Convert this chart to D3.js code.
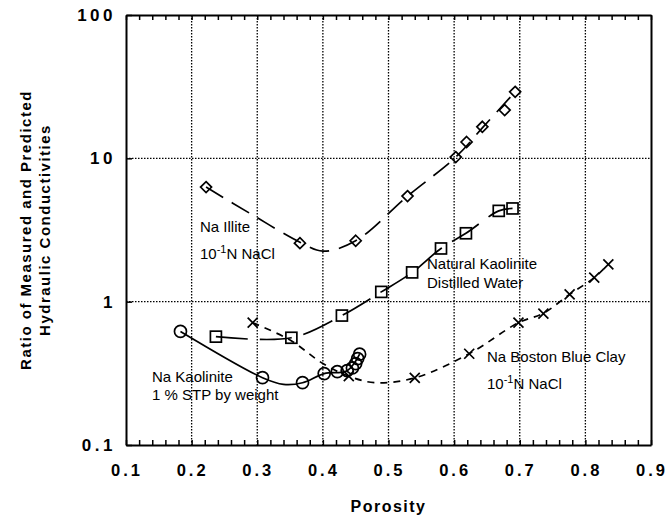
<!DOCTYPE html>
<html><head><meta charset="utf-8">
<script src="https://cdn.jsdelivr.net/npm/d3@7"></script>
<style>body{margin:0;background:#fff}svg{display:block}</style>
</head><body>
<script>
// ---- data ----
const xTicks = [0.1,0.2,0.3,0.4,0.5,0.6,0.7,0.8,0.9];
const yTicks = [0.1,1,10,100];
const yTickLabels = ["0.1","1","10","100"];

const illiteX = [0.222,0.365,0.450,0.529,0.6025,0.619,0.643,0.677,0.693];
const illiteY = [6.3,2.56,2.66,5.45,10.2,13.0,16.6,21.7,29.1];
const illiteFitX = [0.222,0.29,0.365,0.40,0.45,0.529,0.6025,0.643,0.693];
const illiteFitY = [6.3,4.1,2.6,2.25,2.66,5.45,10.2,16.3,29.1];

const natKaoX = [0.237,0.352,0.429,0.489,0.536,0.58,0.618,0.668,0.689];
const natKaoY = [0.57,0.56,0.80,1.17,1.6,2.35,3.0,4.3,4.47];

const naKaoX = [0.183,0.308,0.369,0.402,0.422,0.437,0.445,0.450,0.453,0.456];
const naKaoY = [0.62,0.295,0.272,0.315,0.325,0.33,0.345,0.37,0.40,0.43];
const naKaoFitX = [0.183,0.308,0.34,0.369,0.402,0.437,0.456];
const naKaoFitY = [0.62,0.295,0.265,0.272,0.315,0.33,0.43];

const bostonX = [0.293,0.4395,0.540,0.623,0.698,0.736,0.776,0.8135,0.835];
const bostonY = [0.713,0.302,0.294,0.433,0.713,0.824,1.125,1.47,1.82];
const bostonFitX = [0.293,0.35,0.40,0.4395,0.48,0.540,0.623,0.698,0.736,0.776,0.8135,0.835];
const bostonFitY = [0.713,0.54,0.37,0.302,0.272,0.294,0.433,0.713,0.83,1.125,1.47,1.82];

// ---- chart ----
const W=668,H=527, L=126,R=651,T=15,B=445;
const svg=d3.select("body").append("svg").attr("width",W).attr("height",H);
const x=d3.scaleLinear().domain([0.1,0.9]).range([L,R]);
const y=d3.scaleLog().domain([0.1,100]).range([B,T]);
const font="'Liberation Sans', Arial, Helvetica, sans-serif";

// grid
const grid=svg.append("g").attr("stroke","#000").attr("stroke-width",1.3).attr("stroke-dasharray","1.5,1.5");
xTicks.slice(1,-1).forEach(v=>grid.append("line").attr("x1",x(v)).attr("x2",x(v)).attr("y1",T).attr("y2",B));
[1,10].forEach(v=>grid.append("line").attr("x1",L).attr("x2",R).attr("y1",y(v)).attr("y2",y(v)));

// axes via d3 axis
const minor=d3.range(0.1,0.9001,0.02);
svg.append("g").attr("transform",`translate(0,${B})`)
  .call(d3.axisBottom(x).tickValues(minor).tickSizeInner(-5).tickSizeOuter(0).tickFormat(""))
  .call(g=>{g.select(".domain").attr("stroke-width",2);g.selectAll("line").attr("stroke-width",1.5);});
svg.append("g").attr("transform",`translate(0,${T})`)
  .call(d3.axisTop(x).tickValues(minor).tickSizeInner(-5).tickSizeOuter(0).tickFormat(""))
  .call(g=>{g.select(".domain").attr("stroke-width",2);g.selectAll("line").attr("stroke-width",1.5);});
svg.append("g").attr("transform",`translate(${L},0)`)
  .call(d3.axisLeft(y).tickValues(yTicks).tickSizeInner(-6).tickSizeOuter(0).tickFormat(""))
  .call(g=>{g.select(".domain").attr("stroke-width",2);g.selectAll("line").attr("stroke-width",1.5);});
svg.append("g").attr("transform",`translate(${R},0)`)
  .call(d3.axisRight(y).tickValues([]).tickSizeOuter(0))
  .call(g=>g.select(".domain").attr("stroke-width",2));

// tick labels
svg.append("g").selectAll("text").data(yTicks).join("text")
  .attr("x",116).attr("y",d=>y(d)).attr("dy","0.36em")
  .attr("text-anchor","end").attr("font-family",font).attr("font-weight","bold")
  .attr("font-size",17).attr("letter-spacing",3.5)
  .text((d,i)=>yTickLabels[i]);
svg.append("g").selectAll("text").data(xTicks).join("text")
  .attr("x",d=>x(d)+1).attr("y",B+25).attr("dy","0.36em")
  .attr("text-anchor","middle").attr("font-family",font).attr("font-weight","bold")
  .attr("font-size",16.5).attr("letter-spacing",3)
  .text(d=>d.toFixed(1));

// axis titles
svg.append("text").attr("x",(L+R)/2).attr("y",512).attr("text-anchor","middle")
  .attr("font-family",font).attr("font-weight","bold").attr("font-size",16).attr("letter-spacing",1.5)
  .text("Porosity");
const yt=svg.append("text").attr("transform",`translate(0,${(T+B)/2}) rotate(-90)`)
  .attr("text-anchor","middle").attr("font-family",font).attr("font-weight","bold")
  .attr("font-size",15).attr("letter-spacing",1.5);
yt.append("tspan").attr("x",0).attr("y",31).text("Ratio of Measured and Predicted");
yt.append("tspan").attr("x",0).attr("y",50).text("Hydraulic  Conductivities");

// lines
const lineGen=d3.line().x(d=>x(d[0])).y(d=>y(d[1])).curve(d3.curveCatmullRom.alpha(0.5));
const lg=svg.append("g").attr("fill","none").attr("stroke","#000").attr("stroke-width",1.7);
lg.append("path").attr("d",lineGen(d3.zip(illiteFitX,illiteFitY))).attr("stroke-dasharray","20,10");
lg.append("path").attr("d",lineGen(d3.zip(natKaoX,natKaoY))).attr("stroke-dasharray","32,12");
lg.append("path").attr("d",lineGen(d3.zip(naKaoFitX,naKaoFitY)));
lg.append("path").attr("d",lineGen(d3.zip(bostonFitX,bostonFitY))).attr("stroke-dasharray","7,6");

// markers
const mg=svg.append("g").attr("fill","none").attr("stroke","#000").attr("stroke-width",1.7);
d3.zip(illiteX,illiteY).forEach(d=>{const cx=x(d[0]),cy=y(d[1]),s=5.5;
  mg.append("path").attr("d",`M${cx},${cy-s}L${cx+s},${cy}L${cx},${cy+s}L${cx-s},${cy}Z`);});
d3.zip(natKaoX,natKaoY).forEach(d=>{const s=5.5;
  mg.append("rect").attr("x",x(d[0])-s).attr("y",y(d[1])-s).attr("width",2*s).attr("height",2*s);});
d3.zip(naKaoX,naKaoY).forEach(d=>mg.append("circle").attr("cx",x(d[0])).attr("cy",y(d[1])).attr("r",6));
d3.zip(bostonX,bostonY).forEach(d=>{const cx=x(d[0]),cy=y(d[1]),s=5;
  mg.append("path").attr("d",`M${cx-s},${cy-s}L${cx+s},${cy+s}M${cx-s},${cy+s}L${cx+s},${cy-s}`);});

// annotations
const ann=svg.append("g").attr("font-family",font).attr("font-size",15).attr("fill","#000");
function sup(x0,y0,a,b,c){const e=ann.append("text").attr("x",x0).attr("y",y0);
  e.append("tspan").text(a);e.append("tspan").attr("dy",-6).attr("font-size",11).text(b);
  e.append("tspan").attr("dy",6).text(c);}
ann.append("text").attr("x",200).attr("y",232).text("Na  Illite");
sup(200,259,"10","-1","N NaCl");
ann.append("text").attr("x",427).attr("y",269).text("Natural Kaolinite");
ann.append("text").attr("x",427).attr("y",288).text("Distilled Water");
ann.append("text").attr("x",487).attr("y",362).text("Na Boston Blue Clay");
sup(487,389,"10","-1","N NaCl");
ann.append("text").attr("x",152).attr("y",382).text("Na Kaolinite");
ann.append("text").attr("x",152).attr("y",400).text("1 % STP by weight");
</script>
</body></html>
